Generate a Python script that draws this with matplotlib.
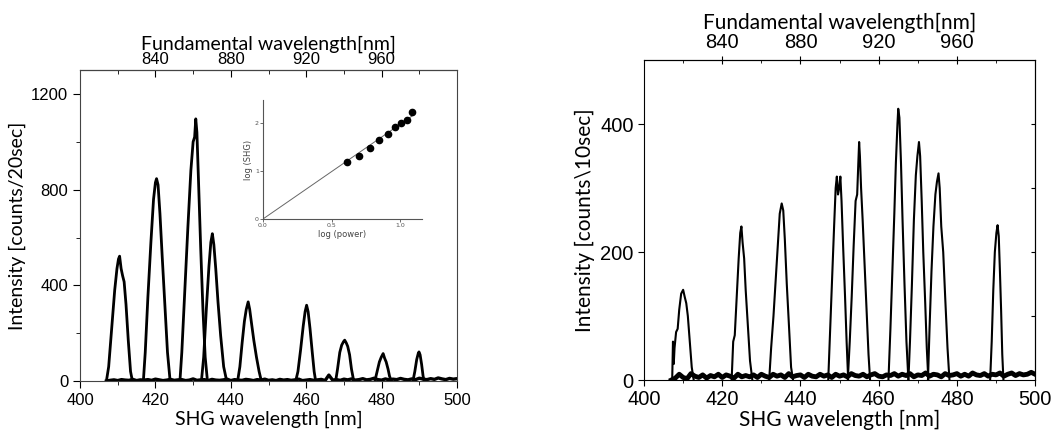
import numpy as np
import matplotlib
matplotlib.use("Agg")
import matplotlib.pyplot as plt
from matplotlib.ticker import MultipleLocator

# ---- left panel: SHG spectra, counts per 20 sec ----
left_peaks_x = [
    [407.0, 407.6, 408.4, 409.2, 409.8, 410.2, 410.5, 410.9, 411.3, 411.7, 412.2, 412.8, 413.4, 413.9],
    [416.8, 417.3, 418.0, 418.8, 419.5, 420.0, 420.3, 420.7, 421.2, 421.8, 422.5, 423.2, 423.9],
    [426.5, 427.0, 427.8, 428.6, 429.4, 430.0, 430.4, 430.7, 431.0, 431.4, 432.0, 432.6, 433.2, 433.8],
    [432.2, 432.8, 433.5, 434.2, 434.7, 435.1, 435.5, 436.0, 436.6, 437.3, 438.1, 438.9],
    [441.8, 442.4, 443.0, 443.6, 444.1, 444.6, 445.0, 445.5, 446.1, 446.8, 447.5, 448.1],
    [457.2, 457.8, 458.5, 459.2, 459.7, 460.1, 460.5, 461.0, 461.6, 462.1, 462.5],
    [467.8, 468.3, 468.9, 469.4, 469.9, 470.2, 470.6, 471.0, 471.5, 472.0, 472.6],
    [478.2, 478.8, 479.4, 479.9, 480.4, 480.8, 481.2, 481.7, 482.1, 482.6],
    [488.3, 488.8, 489.3, 489.7, 489.9, 490.2, 490.6, 491.0, 491.3],
]
left_peaks_y = [
    [0, 60, 220, 380, 470, 510, 522, 470, 440, 415, 320, 170, 40, 0],
    [0, 120, 350, 580, 760, 830, 846, 820, 700, 520, 320, 120, 0],
    [0, 120, 380, 640, 880, 1000, 1020, 1096, 1040, 850, 560, 300, 100, 0],
    [0, 100, 300, 480, 580, 616, 570, 470, 330, 190, 60, 0],
    [0, 60, 160, 250, 300, 331, 300, 240, 170, 100, 40, 0],
    [0, 40, 130, 230, 290, 317, 290, 220, 120, 40, 0],
    [0, 50, 120, 150, 165, 171, 160, 145, 110, 50, 0],
    [0, 40, 80, 100, 115, 95, 80, 50, 20, 0],
    [0, 40, 90, 115, 122, 110, 70, 20, 0],
]
left_base_y = [0, 3, 5, 2, 6, 4, 3, 7, 2, 5, 4, 6, 3, 8, 5, 2, 4, 7, 3, 5,
               6, 2, 4, 9, 3, 5, 6, 2, 7, 4, 3, 5, 8, 2, 6, 4, 3, 7, 5, 2,
               6, 4, 8, 3, 5, 2, 7, 4, 6, 3, 5, 8, 2, 4, 6, 3, 5, 7, 2, 25,
               4, 6, 3, 8, 5, 9, 4, 6, 10, 5, 7, 12, 6, 4, 9, 5, 8, 6, 11, 7,
               5, 9, 6, 12, 8, 6, 10, 7, 13, 9, 6, 11, 8, 10]

# inset: log(SHG) vs log(power)
inset_logp = [0.61, 0.70, 0.78, 0.85, 0.91, 0.96, 1.01, 1.05, 1.09]
inset_logshg = [1.18, 1.31, 1.47, 1.65, 1.77, 1.91, 2.00, 2.07, 2.22]
fit_x = [0.0, 1.1]
fit_y = [0.0, 2.17]

# ---- right panel: SHG spectra, counts per 10 sec ----
right_peaks_x = [
    [407.2, 407.4, 407.6, 407.8, 408.2, 408.6, 409.0, 409.5, 410.0, 410.4, 410.8, 411.2, 411.7, 412.2, 412.7],
    [422.4, 422.8, 423.2, 423.7, 424.2, 424.6, 424.9, 425.2, 425.6, 426.0, 426.5, 427.1, 427.7],
    [432.0, 432.5, 433.1, 433.7, 434.2, 434.7, 435.2, 435.6, 436.0, 436.5, 437.1, 437.6, 438.1],
    [447.1, 447.6, 448.1, 448.6, 449.0, 449.3, 449.6, 449.9, 450.2, 450.5, 450.9, 451.4, 451.8, 452.2],
    [452.1, 452.6, 453.1, 453.6, 454.1, 454.5, 454.8, 455.0, 455.2, 455.5, 455.9, 456.4, 456.9, 457.4, 457.8],
    [462.5, 463.0, 463.5, 464.0, 464.4, 464.8, 465.0, 465.3, 465.7, 466.1, 466.6, 467.1, 467.6],
    [467.6, 468.0, 468.5, 469.0, 469.5, 469.9, 470.3, 470.6, 471.0, 471.4, 471.9, 472.3, 472.7],
    [472.6, 473.0, 473.5, 474.0, 474.5, 474.9, 475.3, 475.6, 476.0, 476.5, 477.0, 477.6, 478.1],
    [488.5, 488.9, 489.3, 489.7, 490.1, 490.4, 490.7, 491.0, 491.3, 491.6, 491.9],
]
right_peaks_y = [
    [0, 60, 25, 50, 75, 80, 110, 135, 141, 130, 120, 100, 60, 20, 0],
    [0, 60, 70, 130, 190, 230, 240, 215, 190, 140, 90, 30, 0],
    [0, 50, 100, 160, 210, 260, 276, 265, 220, 150, 80, 20, 0],
    [0, 80, 160, 240, 300, 318, 290, 300, 318, 280, 210, 130, 60, 0],
    [0, 60, 130, 210, 280, 290, 340, 372, 350, 300, 250, 180, 110, 40, 0],
    [0, 80, 170, 260, 340, 400, 424, 410, 340, 250, 150, 60, 0],
    [0, 60, 150, 250, 320, 350, 372, 350, 280, 200, 120, 50, 0],
    [0, 80, 170, 240, 290, 310, 323, 300, 240, 200, 130, 50, 0],
    [0, 60, 140, 200, 230, 242, 225, 170, 110, 40, 0],
]
right_base_y = [0, 3, 9, 4, 2, 10, 6, 4, 8, 3, 7, 5, 9, 4, 8, 6, 3, 9, 5, 7,
                5, 8, 4, 9, 6, 4, 9, 6, 8, 4, 10, 5, 7, 8, 4, 9, 6, 5, 9, 6,
                8, 4, 9, 6, 8, 5, 10, 7, 6, 9, 5, 8, 10, 6, 5, 8, 7, 10, 6, 9,
                7, 10, 5, 8, 7, 11, 6, 9, 8, 5, 10, 7, 8, 10, 6, 9, 6, 11, 8, 7,
                10, 6, 9, 8, 11, 6, 9, 11, 7, 10, 8, 9, 12, 9]

base_x = np.arange(407, 501)

fund_ticks = [840, 880, 920, 960]
fund_minor = [820, 860, 900, 940, 980]

label_font = "Lato"
tick_font = "Liberation Sans"

fig = plt.figure(figsize=(10.57, 4.37), dpi=100)

# ---------------- left panel ----------------
ax1 = fig.add_axes([0.0757, 0.128, 0.3567, 0.7117])
for px, py in zip(left_peaks_x, left_peaks_y):
    ax1.plot(px, py, color="black", lw=2.0)
ax1.plot(base_x, left_base_y, color="black", lw=2.4)
ax1.set_xlim(400, 500)
ax1.set_ylim(0, 1300)
ax1.set_xticks([400, 420, 440, 460, 480, 500])
ax1.xaxis.set_minor_locator(MultipleLocator(10))
ax1.set_yticks([0, 400, 800, 1200])
ax1.yaxis.set_minor_locator(MultipleLocator(200))
ax1.tick_params(which="both", direction="out", labelsize=12)
ax1.tick_params(which="major", length=5)
ax1.tick_params(which="minor", length=3)
for lab in ax1.get_xticklabels() + ax1.get_yticklabels():
    lab.set_fontfamily(tick_font)
ax1.set_xlabel("SHG wavelength [nm]", fontsize=14, family=label_font, labelpad=2)
ax1.set_ylabel("Intensity [counts/20sec]", fontsize=14, family=label_font, labelpad=4)
for sp in ax1.spines.values():
    sp.set_color("#444444")

top1 = ax1.secondary_xaxis("top", functions=(lambda x: 2 * x, lambda x: x / 2))
top1.set_xticks(fund_ticks)
top1.set_xticks(fund_minor, minor=True)
top1.tick_params(which="both", direction="in", labelsize=12, pad=2)
top1.tick_params(which="major", length=5)
top1.tick_params(which="minor", length=3)
for lab in top1.get_xticklabels():
    lab.set_fontfamily(tick_font)
top1.set_xlabel("Fundamental wavelength[nm]", fontsize=14, family=label_font, labelpad=2)

# inset
axin = fig.add_axes([0.2488, 0.4989, 0.1504, 0.2723])
axin.plot(fit_x, fit_y, color="#666666", lw=0.7)
axin.plot(inset_logp, inset_logshg, "o", color="black", ms=4.5)
axin.set_xlim(0, 1.16)
axin.set_ylim(0, 2.48)
axin.set_xticks([0.0, 0.5, 1.0])
axin.set_xticklabels(["0.0", "0.5", "1.0"])
axin.set_yticks([0, 1, 2])
axin.spines["top"].set_visible(False)
axin.spines["right"].set_visible(False)
axin.spines["left"].set_color("#555555")
axin.spines["bottom"].set_color("#555555")
axin.tick_params(labelsize=4.5, length=2, width=0.6, colors="#555555", pad=1)
axin.set_xlabel("log (power)", fontsize=6, color="#444444", labelpad=1)
axin.set_ylabel("log (SHG)", fontsize=6, color="#444444", labelpad=1)
axin.patch.set_alpha(0)

# ---------------- right panel ----------------
ax2 = fig.add_axes([0.6093, 0.1304, 0.370, 0.732])
for px, py in zip(right_peaks_x, right_peaks_y):
    ax2.plot(px, py, color="black", lw=1.5)
ax2.plot(base_x, right_base_y, color="black", lw=3.5)
ax2.set_xlim(400, 500)
ax2.set_ylim(0, 500)
ax2.set_xticks([400, 420, 440, 460, 480, 500])
ax2.xaxis.set_minor_locator(MultipleLocator(10))
ax2.set_yticks([0, 200, 400])
ax2.tick_params(which="both", direction="out", labelsize=14.5)
ax2.tick_params(which="major", length=4)
ax2.tick_params(which="minor", length=2)
for lab in ax2.get_xticklabels() + ax2.get_yticklabels():
    lab.set_fontfamily(tick_font)
ax2.set_xlabel("SHG wavelength [nm]", fontsize=15, family=label_font, labelpad=0)
ax2.set_ylabel("Intensity [counts\\10sec]", fontsize=15, family=label_font, labelpad=4)

right2 = ax2.secondary_yaxis("right")
right2.set_yticks([100, 200, 300, 400])
right2.tick_params(direction="in", length=3, labelright=False)

top2 = ax2.secondary_xaxis("top", functions=(lambda x: 2 * x, lambda x: x / 2))
top2.set_xticks(fund_ticks)
top2.set_xticks(fund_minor, minor=True)
top2.tick_params(which="major", direction="inout", length=6, labelsize=14.5, pad=3)
top2.tick_params(which="minor", direction="in", length=2)
for lab in top2.get_xticklabels():
    lab.set_fontfamily(tick_font)
top2.set_xlabel("Fundamental wavelength[nm]", fontsize=15, family=label_font, labelpad=3)

fig.savefig("out.png", dpi=100)
